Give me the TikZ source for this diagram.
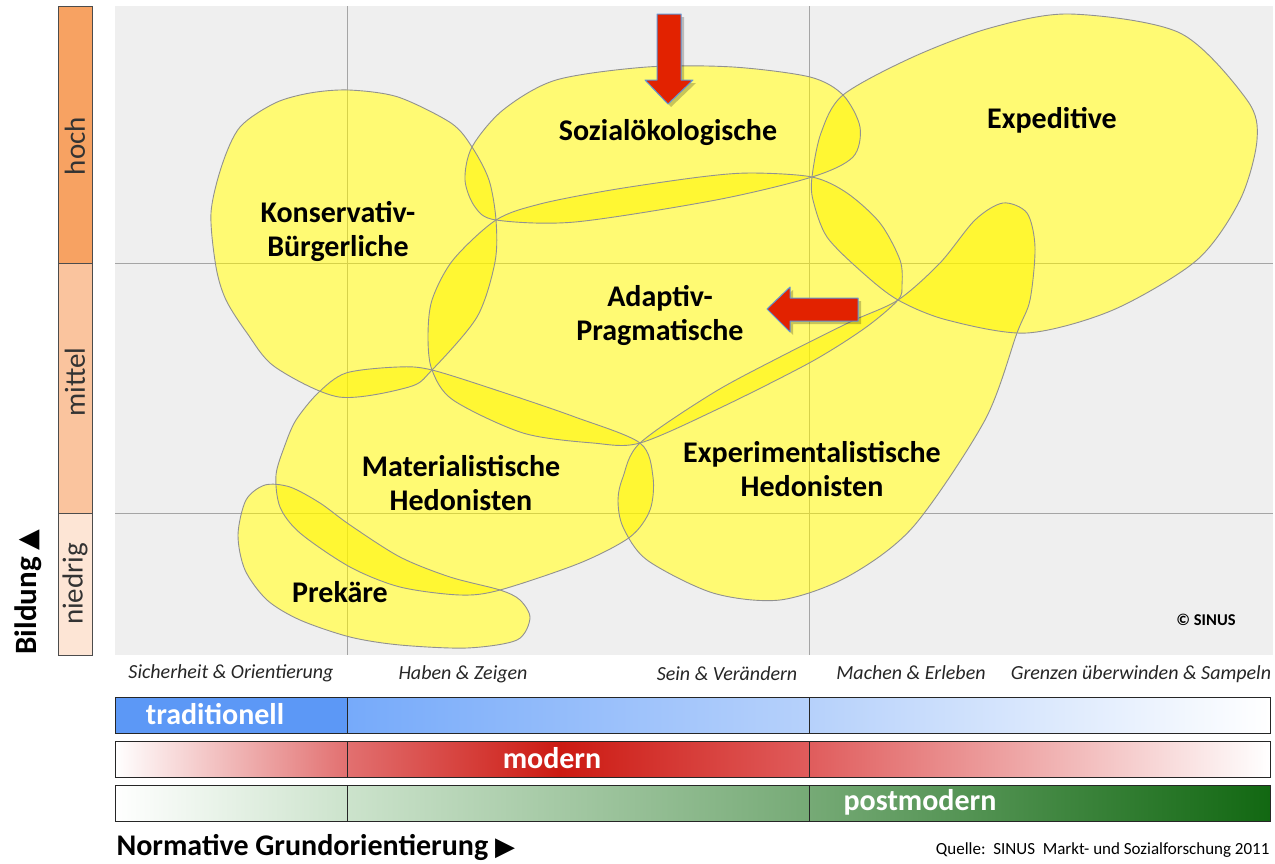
\documentclass[tikz,border=0pt]{standalone}
\usepackage{fontspec}
\setmainfont{Carlito}
\newfontfamily\symfont{DejaVu Sans}
\usetikzlibrary{positioning}

\definecolor{chartgray}{RGB}{239,239,239}
\definecolor{gridgray}{RGB}{165,165,165}
\definecolor{rimgray}{RGB}{145,145,145}
\definecolor{blobyellow}{RGB}{255,246,0}
\definecolor{hochcol}{RGB}{247,162,98}
\definecolor{mittelcol}{RGB}{250,196,158}
\definecolor{niedrigcol}{RGB}{253,229,213}
\definecolor{arrowred}{RGB}{226,34,0}
\definecolor{arrowrim}{RGB}{95,150,215}
\definecolor{tradblue}{RGB}{92,152,246}
\definecolor{tradlight}{RGB}{118,170,250}
\definecolor{tradmid}{RGB}{182,209,251}
\definecolor{modpale}{RGB}{226,112,112}
\definecolor{moddark}{RGB}{204,26,18}
\definecolor{modlight}{RGB}{224,92,92}
\definecolor{postpale}{RGB}{204,227,204}
\definecolor{postmid}{RGB}{118,170,118}
\definecolor{postdark}{RGB}{18,104,18}

% Milieu-Umrisse
\newcommand{\konsPath}{plot[smooth cycle] coordinates {(349,90) (398,97) (451,123) (472,147) (489,180) (496,220) (495,262) (477,317) (432,370) (409,387) (339,397) (275,367) (247,333) (226,300) (216,267) (211,213) (222,165) (240,127) (275,103) (310,93)}}
\newcommand{\sozPath}{plot[smooth cycle] coordinates {(496,220) (475,207) (465,180) (472,147) (503,110) (556,80) (647,67) (733,67) (810,77) (843,95) (860,127) (853,157) (812,177) (716,200) (575,222)}}
\newcommand{\adaptPath}{plot[smooth cycle] coordinates {(496,220) (540,204) (611,190) (700,177) (751,173) (812,177) (847,193) (880,223) (900,260) (902,285) (898,300) (865,328) (811,362) (720,408) (640,443) (593,443) (523,433) (453,400) (432,370) (428,337) (432,300) (453,260)}}
\newcommand{\expedPath}{plot[smooth cycle] coordinates {(812,177) (821,133) (843,95) (913,57) (990,28) (1070,14) (1180,33) (1247,100) (1257,140) (1240,200) (1197,260) (1113,310) (1027,333) (947,320) (898,300) (863,273) (827,237) (813,200)}}
\newcommand{\experPath}{plot[smooth cycle] coordinates {(640,443) (713,393) (780,357) (850,322) (898,300) (940,263) (975,220) (1003,203) (1027,213) (1035,247) (1030,300) (1017,333) (985,420) (913,527) (847,577) (780,600) (713,593) (647,560) (623,527) (618,500) (623,477)}}
\newcommand{\matPath}{plot[smooth cycle] coordinates {(432,370) (505,393) (575,417) (640,443) (653,477) (650,510) (630,537) (580,563) (500,590) (460,595) (400,587) (350,567) (300,533) (280,507) (276,475) (285,445) (296,420) (318,393) (346,373) (398,367)}}
\newcommand{\prekPath}{plot[smooth cycle] coordinates {(265,485) (290,487) (320,503) (350,525) (400,557) (450,577) (500,590) (520,600) (530,618) (517,640) (467,648) (400,645) (350,637) (300,620) (267,600) (245,570) (238,535) (246,500)}}

\tikzset{
  blob/.style={fill=blobyellow, fill opacity=0.55},
  blobbase/.style={fill=white},
  rim/.style={draw=rimgray, line width=0.9pt},
  gridline/.style={draw=gridgray, line width=0.9pt},
  milieu/.style={font=\bfseries\fontsize{30}{34}\selectfont, align=center, text=black},
  werte/.style={font=\itshape\fontsize{20}{22}\selectfont, text=black!85},
  level/.style={rotate=90, font=\fontsize{29}{30}\selectfont, text=black!80},
  barlabel/.style={font=\bfseries\fontsize{30}{32}\selectfont, text=white},
  barrim/.style={draw=black!85, line width=0.9pt},
  blockarrow/.style={fill=arrowred, draw=arrowrim, line width=1pt, line join=round},
  arrowshadow/.style={fill=black, opacity=0.22}
}

\begin{document}
\begin{tikzpicture}[x=1pt, y=-1pt]
  \useasboundingbox (0,0) rectangle (1275,863);
  \fill[white] (0,0) rectangle (1275,863);

  % Bildung
  \fill[hochcol] (58,6) rectangle (92,263);
  \fill[mittelcol] (58,263) rectangle (92,513);
  \fill[niedrigcol] (58,513) rectangle (92,655);
  \draw[black!70, line width=0.8pt] (58,6) rectangle (92,655) (58,263) -- (92,263) (58,513) -- (92,513);
  \node[level] (hoch) at (75,146) {hoch};
  \node[level] (mittel) at (75,382) {mittel};
  \node[level] (niedrig) at (75,584) {niedrig};
  \node[rotate=90, anchor=west, font=\bfseries\fontsize{31}{32}\selectfont] (bildung) at (28,658) {Bildung {\symfont\fontsize{27}{28}\selectfont ▲}};

  % Diagrammflaeche
  \fill[chartgray] (115,6) rectangle (1273,655);
  \fill[blobbase] \konsPath;
  \fill[blobbase] \sozPath;
  \fill[blobbase] \adaptPath;
  \fill[blobbase] \expedPath;
  \fill[blobbase] \experPath;
  \fill[blobbase] \matPath;
  \fill[blobbase] \prekPath;
  \draw[gridline] (347,6) -- (347,655);
  \draw[gridline] (809,6) -- (809,655);
  \draw[gridline] (115,263) -- (1273,263);
  \draw[gridline] (115,513) -- (1273,513);

  % Milieus
  \fill[blob] \konsPath;
  \fill[blob] \sozPath;
  \fill[blob] \adaptPath;
  \fill[blob] \expedPath;
  \fill[blob] \experPath;
  \fill[blob] \matPath;
  \fill[blob] \prekPath;
  \draw[rim] \konsPath;
  \draw[rim] \sozPath;
  \draw[rim] \adaptPath;
  \draw[rim] \expedPath;
  \draw[rim] \experPath;
  \draw[rim] \matPath;
  \draw[rim] \prekPath;

  \node[milieu] (soz) at (668,133) {Sozialökologische};
  \node[milieu] (exped) at (1052,120) {Expeditive};
  \node[milieu] (kons) at (338,231) {Konservativ-\\Bürgerliche};
  \node[milieu] (adapt) at (660,315) {Adaptiv-\\Pragmatische};
  \node[milieu] (mat) at (461,483) {Materialistische\\Hedonisten};
  \node[milieu] (exper) at (812,469) {Experimentalistische\\Hedonisten};
  \node[milieu] (prek) at (340,592) {Prekäre};
  \node[font=\bfseries\fontsize{16.5}{18}\selectfont] (copy) at (1206,620) {© SINUS};

  % Pfeile
  \fill[arrowshadow] (660,17) -- (684,17) -- (684,83) -- (696,83) -- (671,107) -- (648,83) -- (660,83) -- cycle;
  \draw[blockarrow] (657,14) -- (681,14) -- (681,80) -- (693,80) -- (668,104) -- (645,80) -- (657,80) -- cycle;
  \fill[arrowshadow] (770,312) -- (793,290) -- (793,301) -- (861,301) -- (861,324) -- (793,324) -- (793,335) -- cycle;
  \draw[blockarrow] (767,309) -- (790,287) -- (790,298) -- (858,298) -- (858,321) -- (790,321) -- (790,332) -- cycle;

  % Werte
  \node[werte] (sicher) at (231,673) {Sicherheit \& Orientierung};
  \node[werte] (haben) at (463,674) {Haben \& Zeigen};
  \node[werte] (sein) at (727,674) {Sein \& Verändern};
  \node[werte] (machen) at (911,673) {Machen \& Erleben};
  \node[werte] (grenzen) at (1141,674) {Grenzen überwinden \& Sampeln};

  % Grundorientierung
  \fill[tradblue] (115,697) rectangle (347,733);
  \shade[left color=tradlight, right color=tradmid] (347,697) rectangle (809,733);
  \shade[left color=tradmid, right color=white] (809,697) rectangle (1270,733);
  \shade[left color=white, right color=modpale] (115,741) rectangle (347,777);
  \shade[left color=modpale, right color=moddark] (347,741) rectangle (560,777);
  \shade[left color=moddark, right color=modlight] (560,741) rectangle (809,777);
  \shade[left color=modlight, right color=white] (809,741) rectangle (1270,777);
  \shade[left color=white, right color=postpale] (115,785) rectangle (347,821);
  \shade[left color=postpale, right color=postmid] (347,785) rectangle (809,821);
  \shade[left color=postmid, right color=postdark] (809,785) rectangle (1270,821);
  \foreach \y in {697,741,785} {
    \draw[barrim] (115,\y) rectangle (1270,\y+36);
    \draw[barrim] (347,\y) -- (347,\y+36);
    \draw[barrim] (809,\y) -- (809,\y+36);
  }
  \node[barlabel] (trad) at (215,714) {traditionell};
  \node[barlabel] (modern) at (552,758) {modern};
  \node[barlabel] (post) at (920,802) {postmodern};

  \node[anchor=west, font=\bfseries\fontsize{30}{32}\selectfont] (normativ) at (113,847) {Normative Grundorientierung {\symfont\fontsize{26}{28}\selectfont ▶}};
  \node[anchor=east, font=\fontsize{17}{19}\selectfont] (quelle) at (1273,850) {Quelle:\ \ SINUS\ \ Markt- und Sozialforschung 2011};
\end{tikzpicture}
\end{document}
